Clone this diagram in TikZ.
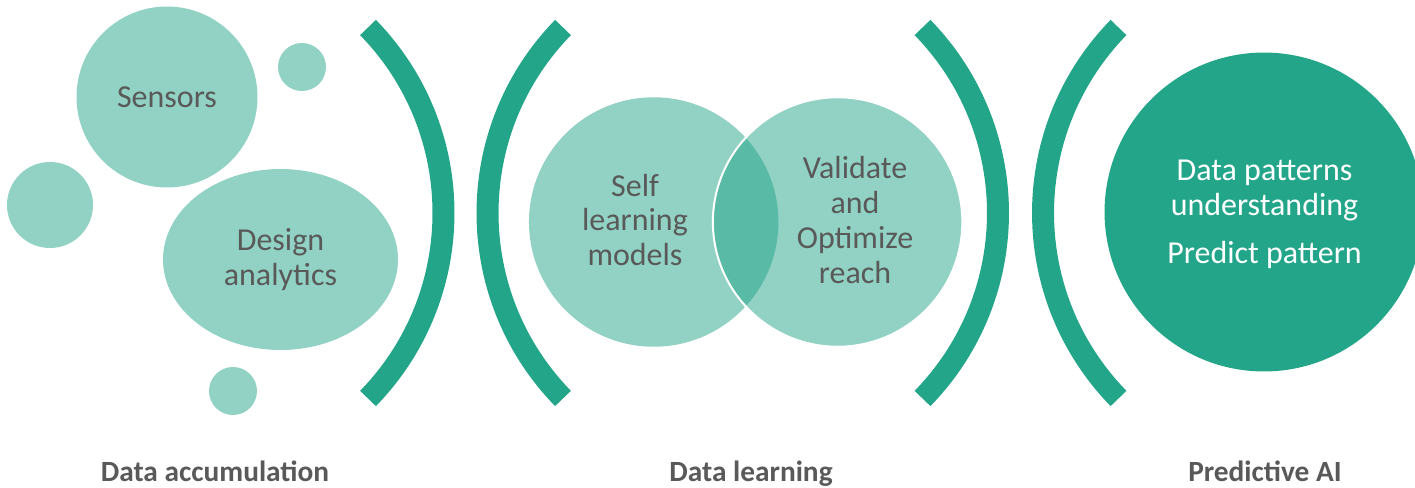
\documentclass[tikz,border=0pt]{standalone}
\usepackage{fontspec}
\setmainfont{Carlito}
\usetikzlibrary{shapes.geometric}
\definecolor{teal}{HTML}{23A589}
\definecolor{lightteal}{HTML}{91D2C4}
\definecolor{txtgray}{HTML}{595959}
\begin{document}
\begin{tikzpicture}[x=0.02cm,y=-0.02cm,
  bubble/.style={circle,fill=lightteal,draw=none,inner sep=0pt,text=txtgray,align=center,font=\fontsize{18.2}{19.8}\selectfont},
  venn/.style={circle,fill=teal,fill opacity=0.5,draw=white,line width=0.04cm,inner sep=0pt,minimum size=4.99cm},
  body/.style={text=txtgray,align=center,font=\fontsize{18.2}{19.8}\selectfont},
  bracket/.style={draw=teal,line width=0.44cm},
  stage/.style={text=txtgray,font=\bfseries\fontsize{16.7}{20}\selectfont,anchor=base},
]
\useasboundingbox (0,0) rectangle (1415,487);
% Data accumulation bubbles
\node[bubble,minimum size=3.62cm] (sensors) at (167,97) {Sensors};
\node[bubble,minimum size=0.96cm] (dot1) at (302,67) {};
\node[bubble,minimum size=1.72cm] (dot2) at (50,205) {};
\node[bubble,ellipse,minimum width=4.7cm,minimum height=3.62cm] (design) at (280.5,259.5) {Design\\analytics};
\node[bubble,minimum size=0.96cm] (dot3) at (233,391) {};
% brackets
\draw[bracket] (368,27.5) arc[start angle=-44.29,end angle=44.29,radius=265.63];
\draw[bracket] (563,27.5) arc[start angle=-135.71,end angle=-224.29,radius=265.63];
\draw[bracket] (922.5,27.5) arc[start angle=-44.29,end angle=44.29,radius=265.63];
\draw[bracket] (1118.5,27.5) arc[start angle=-135.71,end angle=-224.29,radius=265.63];
% Venn
\node[venn,draw=none] (self) at (653.7,222) {};
\node[venn] (valid) at (837.6,222) {};
\node[body] (selft) at (635,220) {Self\\learning\\models};
\node[body] (validt) at (855,220) {Validate\\and\\Optimize\\reach};
% Predictive
\node[circle,fill=teal,inner sep=0pt,minimum size=6.38cm] (big) at (1264,212) {};
\node[text=white,align=center,font=\fontsize{18.2}{19.8}\selectfont] (bigt) at (1264.5,214.5) {Data patterns\\understanding\\[0.28cm]Predict pattern};
% stage labels
\node[stage] (s1) at (215,481.7) {Data accumulation};
\node[stage] (s2) at (751,481.7) {Data learning};
\node[stage] (s3) at (1265,481.7) {Predictive AI};
\end{tikzpicture}
\end{document}
